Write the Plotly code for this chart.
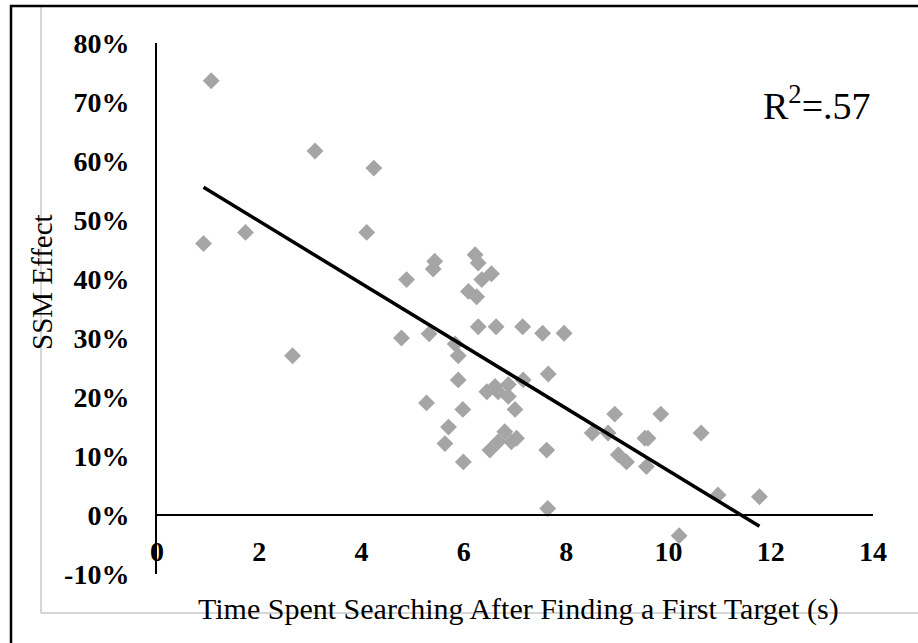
import numpy as np
import plotly.graph_objects as go

# Data
time_s = [1.06, 3.09, 4.24, 0.91, 1.73, 4.10, 4.88, 5.43, 5.40, 2.65,
          4.78, 5.32, 5.27, 5.70, 5.63, 6.22, 6.28, 6.54, 6.35, 6.09,
          6.25, 6.28, 6.63, 7.15, 7.54, 7.96, 5.83, 5.89, 5.89, 7.16,
          7.65, 6.45, 6.61, 6.67, 6.87, 6.87, 7.00, 5.98, 6.80, 6.67,
          6.51, 6.93, 7.03, 7.62, 5.99, 8.95, 9.85, 8.51, 8.82, 9.54,
          9.60, 9.02, 9.18, 9.57, 10.64, 10.97, 11.78, 7.64, 10.21]
ssm_effect = [73.6, 61.7, 58.8, 46.0, 47.9, 47.9, 39.9, 43.0, 41.7, 27.0,
              30.0, 30.7, 19.0, 14.9, 12.1, 44.1, 42.7, 40.9, 39.9, 37.9,
              37.0, 31.9, 31.9, 31.9, 30.8, 30.8, 29.0, 27.0, 22.9, 22.9,
              23.9, 20.9, 21.8, 20.9, 22.1, 20.1, 17.9, 17.9, 14.1, 12.4,
              11.0, 12.4, 13.0, 11.0, 9.0, 17.1, 17.1, 13.9, 13.9, 13.0,
              13.0, 10.2, 9.0, 8.2, 13.9, 3.4, 3.1, 1.1, -3.5]
x_ticks = [0, 2, 4, 6, 8, 10, 12, 14]
y_ticks = [-10, 0, 10, 20, 30, 40, 50, 60, 70, 80]
y_tick_labels = ["-10%", "0%", "10%", "20%", "30%", "40%", "50%", "60%", "70%", "80%"]
x_title = "Time Spent Searching After Finding a First Target (s)"
y_title = "SSM Effect"
r2_text = "R<sup>2</sup>=.57"

# Linear trendline (least squares)
slope, intercept = np.polyfit(time_s, ssm_effect, 1)
trend_x = [min(time_s), max(time_s)]
trend_y = [slope * v + intercept for v in trend_x]

W, H = 918, 643
L, R, T, B = 157, 45, 43, 69
PW, PH = W - L - R, H - T - B


def px(xp):
    return (xp - L) / PW


def py(yp):
    return (H - B - yp) / PH


SERIF = "Liberation Serif, Times New Roman, serif"

fig = go.Figure()
fig.add_trace(go.Scatter(
    x=time_s, y=ssm_effect, mode="markers",
    marker=dict(symbol="diamond", size=13, color="#A5A5A5", line=dict(width=0)),
    showlegend=False, hoverinfo="skip"))
fig.add_trace(go.Scatter(
    x=trend_x, y=trend_y, mode="lines",
    line=dict(color="black", width=3.5),
    showlegend=False, hoverinfo="skip"))

fig.update_layout(
    width=W, height=H,
    margin=dict(l=L, r=R, t=T, b=B, pad=0),
    paper_bgcolor="white", plot_bgcolor="white",
    font=dict(family=SERIF, color="black"),
    xaxis=dict(range=[0, 14], tickvals=x_ticks, showgrid=False, zeroline=False,
               showline=True, linecolor="black", linewidth=2,
               anchor="free", position=(0 - (-10)) / 90,
               ticks="", ticklabelstandoff=11,
               tickfont=dict(size=28, family=SERIF, weight="bold")),
    yaxis=dict(range=[-10, 80], tickvals=y_ticks, ticktext=y_tick_labels,
               showgrid=False, zeroline=False,
               showline=True, linecolor="black", linewidth=2,
               ticks="", ticklabelstandoff=20,
               tickfont=dict(size=28, family=SERIF, weight="bold")),
)

shapes = [
    # light gray chart-area frame
    dict(type="line", xref="paper", yref="paper", x0=px(41), x1=px(41), y0=py(6), y1=py(613),
         line=dict(color="#C8C8C8", width=1.5), layer="below"),
    dict(type="line", xref="paper", yref="paper", x0=px(41), x1=px(925), y0=py(613), y1=py(613),
         line=dict(color="#C8C8C8", width=1.5), layer="below"),
    # black outer frame
    dict(type="line", xref="paper", yref="paper", x0=px(11), x1=px(11), y0=py(5), y1=py(650),
         line=dict(color="black", width=2.5), layer="below"),
    dict(type="line", xref="paper", yref="paper", x0=px(10), x1=px(925), y0=py(6), y1=py(6),
         line=dict(color="black", width=2.5), layer="below"),
]
fig.update_layout(shapes=shapes)

fig.add_annotation(text=x_title, xref="paper", yref="paper", x=px(518), y=py(609),
                   showarrow=False, xanchor="center", yanchor="middle",
                   font=dict(size=30, family=SERIF, color="black"))
fig.add_annotation(text=y_title, xref="paper", yref="paper", x=px(42), y=py(282),
                   showarrow=False, xanchor="center", yanchor="middle", textangle=-90,
                   font=dict(size=29, family=SERIF, color="black"))
fig.add_annotation(text=r2_text, xref="paper", yref="paper", x=px(817), y=py(103),
                   showarrow=False, xanchor="center", yanchor="middle",
                   font=dict(size=38, family=SERIF, color="black"))

fig.write_html("out.html")
